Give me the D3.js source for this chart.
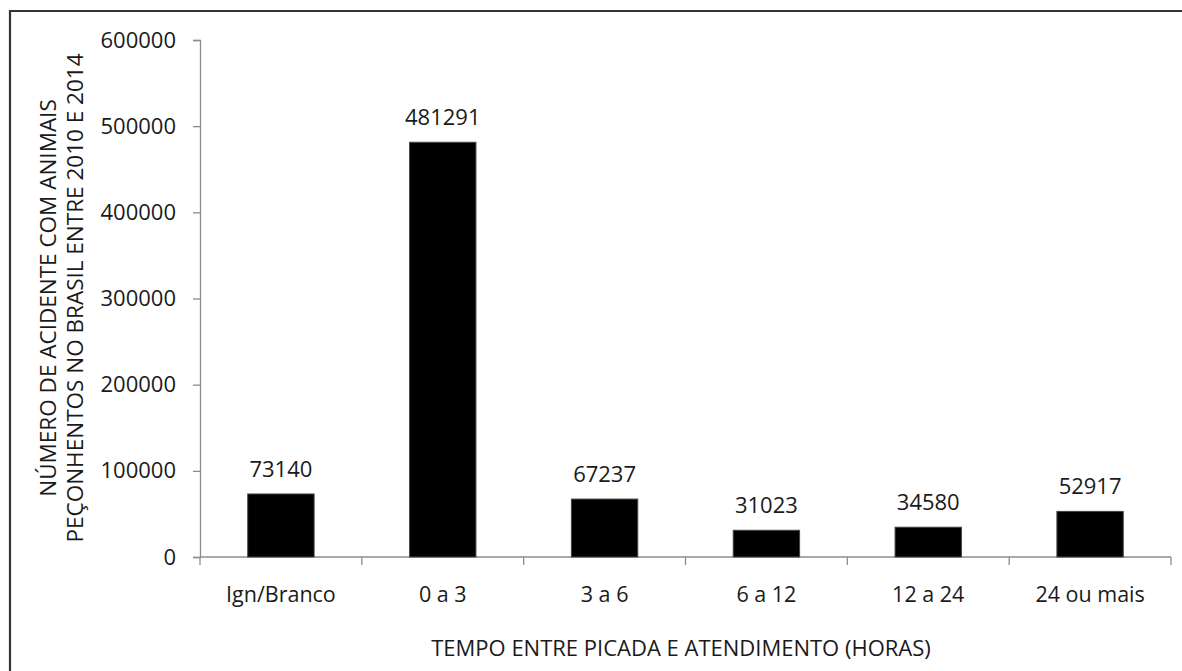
<!DOCTYPE html>
<html>
<head>
<meta charset="utf-8">
<script src="https://cdn.jsdelivr.net/npm/d3@7"></script>
<style>
  html, body { margin: 0; padding: 0; background: #fff; }
  svg { display: block; }
  text { font-family: "Open Sans", "Noto Sans", sans-serif; fill: #1a1a1a; }
</style>
</head>
<body>
<svg id="chart" width="1182" height="671"></svg>
<script>
const categories = ["Ign/Branco", "0 a 3", "3 a 6", "6 a 12", "12 a 24", "24 ou mais"];
const values = [73140, 481291, 67237, 31023, 34580, 52917];
const yTicks = [0, 100000, 200000, 300000, 400000, 500000, 600000];
const xTitle = "TEMPO ENTRE PICADA E ATENDIMENTO (HORAS)";
const yTitleLines = ["NÚMERO DE ACIDENTE COM ANIMAIS", "PEÇONHENTOS NO BRASIL ENTRE 2010 E 2014"];

(function () {
const svg = d3.select("#chart");
const W = 1182, H = 671;
const mLeft = 200, mRight = 1171, mTop = 40, mBottom = 557;

// frame (top and left border)
svg.append("line").attr("x1", 9).attr("x2", W).attr("y1", 11).attr("y2", 11)
  .attr("stroke", "#333").attr("stroke-width", 2.2);
svg.append("line").attr("x1", 10).attr("x2", 10).attr("y1", 10).attr("y2", H)
  .attr("stroke", "#333").attr("stroke-width", 2.2);

const x = d3.scaleBand().domain(categories).range([mLeft, mRight]).padding(0);
const y = d3.scaleLinear().domain([0, 600000]).range([mBottom, mTop]);

// y axis
const yAxis = d3.axisLeft(y).tickValues(yTicks).tickSize(7).tickPadding(17).tickFormat(d3.format("d"));
const gy = svg.append("g").attr("transform", `translate(${mLeft},0)`).call(yAxis);
gy.select(".domain").attr("stroke", "#8c8c8c").attr("stroke-width", 1.3);
gy.selectAll(".tick line").attr("stroke", "#8c8c8c").attr("stroke-width", 1.3);
gy.selectAll(".tick text").attr("font-size", 22).attr("fill", "#1a1a1a")
  .style("font-family", "'Open Sans', sans-serif");

// x axis: ticks at band boundaries
const gx = svg.append("g").attr("transform", `translate(0,${mBottom})`);
gx.append("line").attr("x1", mLeft).attr("x2", mRight).attr("y1", 0).attr("y2", 0)
  .attr("stroke", "#8c8c8c").attr("stroke-width", 1.3);
const bounds = categories.map(c => x(c)).concat([x(categories[categories.length - 1]) + x.bandwidth()]);
gx.selectAll("line.bt").data(bounds).join("line").attr("class", "bt")
  .attr("x1", d => d).attr("x2", d => d).attr("y1", 0).attr("y2", 8)
  .attr("stroke", "#8c8c8c").attr("stroke-width", 1.3);
gx.selectAll("text.cat").data(categories).join("text").attr("class", "cat")
  .attr("x", d => x(d) + x.bandwidth() / 2).attr("y", 45)
  .attr("text-anchor", "middle").attr("font-size", 21.5).text(d => d);

// bars
const barW = x.bandwidth() * 0.41;
svg.selectAll("rect.bar").data(values).join("rect").attr("class", "bar")
  .attr("x", (d, i) => x(categories[i]) + (x.bandwidth() - barW) / 2)
  .attr("y", d => y(d))
  .attr("width", barW)
  .attr("height", d => mBottom - y(d))
  .attr("fill", "#000").attr("stroke", "#444").attr("stroke-width", 1);

// value labels
svg.selectAll("text.val").data(values).join("text").attr("class", "val")
  .attr("x", (d, i) => x(categories[i]) + x.bandwidth() / 2)
  .attr("y", d => y(d) - 17)
  .attr("text-anchor", "middle").attr("font-size", 22).text(d => d);

// x title
svg.append("text").attr("x", 681).attr("y", 656).attr("text-anchor", "middle")
  .attr("font-size", 22).text(xTitle);

// y title
const yt = svg.append("text").attr("transform", "translate(0,298) rotate(-90)")
  .attr("text-anchor", "middle").attr("font-size", 22.5);
yt.selectAll("tspan").data(yTitleLines).join("tspan")
  .attr("x", 0).attr("y", (d, i) => 56 + i * 27).text(d => d);
})();
</script>
</body>
</html>
